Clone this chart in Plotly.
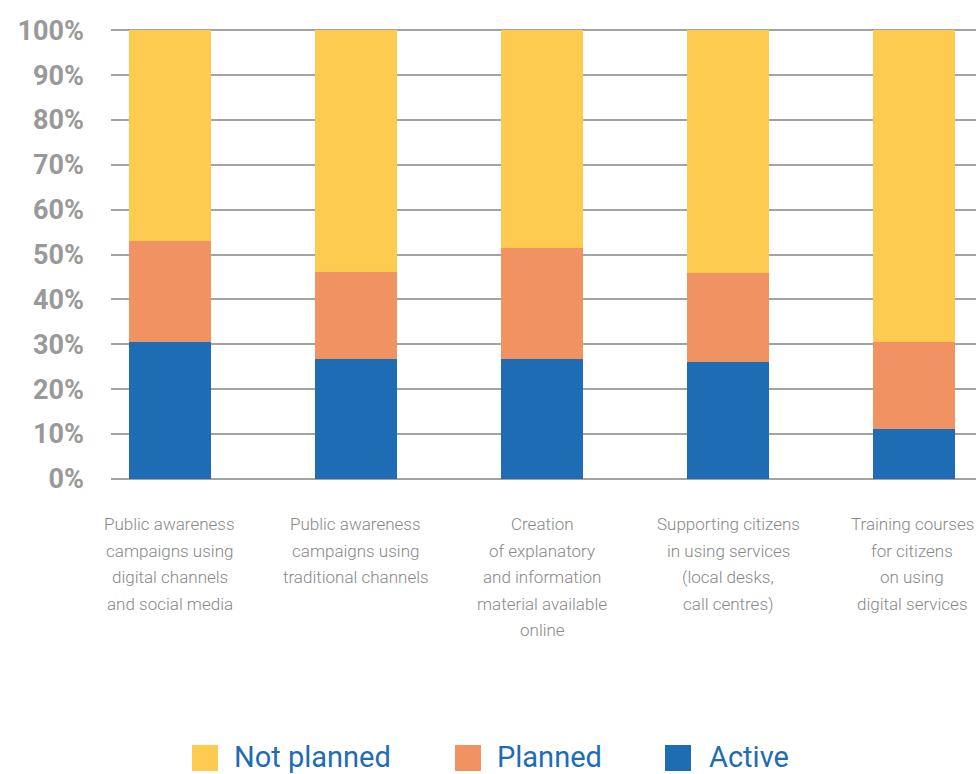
import plotly.graph_objects as go

categories = [
    "Public awareness<br>campaigns using<br>digital channels<br>and social media",
    "Public awareness<br>campaigns using<br>traditional channels",
    "Creation<br>of explanatory<br>and information<br>material available<br>online",
    "Supporting citizens<br>in using services<br>(local desks,<br>call centres)",
    "Training courses<br>for citizens<br>on using<br>digital services",
]
active = [30.5, 26.7, 26.7, 26.1, 11.1]
planned = [22.5, 19.4, 24.7, 19.8, 19.4]
not_planned = [47.0, 53.9, 48.6, 54.1, 69.5]
series_names = ["Not planned", "Planned", "Active"]
colors = {"Not planned": "#FDCB4F", "Planned": "#F09262", "Active": "#1D6CB4"}
y_ticks = [0, 10, 20, 30, 40, 50, 60, 70, 80, 90, 100]

W, H = 976, 774
ML, MR, MT, MB = 111, 0, 28, 293
PW, PH = W - ML - MR, H - MT - MB
GRID = "#a3a3a3"


def px_x(p):
    return (p - ML) / PW


def px_y(p):
    return (H - MB - p) / PH


fig = go.Figure()
for name, vals in [("Active", active), ("Planned", planned), ("Not planned", not_planned)]:
    fig.add_trace(go.Bar(
        x=categories, y=vals, name=name, marker_color=colors[name],
        marker_line_width=0, width=0.44, showlegend=False,
    ))

# category labels, one annotation per line to control line spacing
LINE_H = 26.5
for k, c in enumerate(categories):
    for i, line in enumerate(c.split("<br>")):
        fig.add_annotation(
            x=c, xref="x", y=px_y(524 + i * LINE_H), yref="paper", text=line,
            showarrow=False, xanchor="center", yanchor="middle", align="center",
            xshift=-2 if k == len(categories) - 1 else 0,
            font=dict(family="Roboto", size=17, color="#888888", weight=300),
        )

# manual legend
legend_pos = {"Not planned": (192, 232), "Planned": (455, 495), "Active": (665, 707)}
for name in series_names:
    sx, tx = legend_pos[name]
    fig.add_shape(type="rect", xref="paper", yref="paper",
                  x0=px_x(sx), x1=px_x(sx + 26), y0=px_y(771), y1=px_y(745),
                  fillcolor=colors[name], line_width=0)
    fig.add_annotation(x=px_x(tx), y=px_y(757), xref="paper", yref="paper",
                       text=name, showarrow=False, xanchor="left", yanchor="middle",
                       font=dict(family="Roboto", size=29, color="#1D6CB4"))

fig.update_layout(
    width=W, height=H, barmode="stack", bargap=0.56,
    margin=dict(l=ML, r=MR, t=MT, b=MB),
    plot_bgcolor="white", paper_bgcolor="white",
    xaxis=dict(range=[-0.317, 4.333], showticklabels=False, showgrid=False,
               zeroline=False, showline=False, fixedrange=True),
    yaxis=dict(range=[-0.5, 100.5], tickvals=y_ticks,
               ticktext=[f"{v}%" for v in y_ticks],
               showgrid=True, gridcolor=GRID, gridwidth=1.5,
               zeroline=False, showline=False, ticklabelstandoff=26,
               tickfont=dict(family="Roboto", size=27, color="#999999", weight="bold")),
)

fig.write_html("out.html")
